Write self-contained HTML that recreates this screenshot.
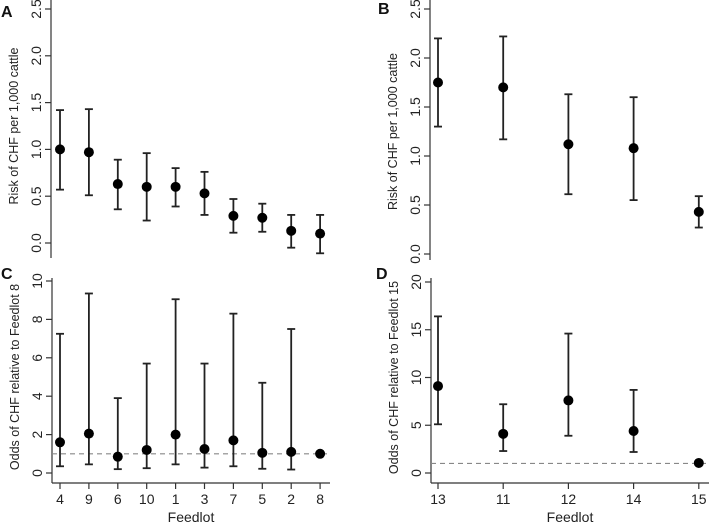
<!DOCTYPE html>
<html><head><meta charset="utf-8"><style>
body{margin:0;background:#fff}
svg{display:block;font-family:"Liberation Sans",Arial,sans-serif}
</style></head><body>
<svg id="c" width="709" height="525" viewBox="0 0 709 525"></svg>
<script>
const aCats=["4","9","6","10","1","3","7","5","2","8"];
const aEst=[1.0,0.97,0.63,0.6,0.6,0.53,0.29,0.27,0.13,0.1];
const aLo=[0.57,0.51,0.36,0.24,0.39,0.3,0.11,0.12,-0.05,-0.11];
const aHi=[1.42,1.43,0.89,0.96,0.80,0.76,0.47,0.42,0.30,0.30];
const bCats=["13","11","12","14","15"];
const bEst=[1.75,1.70,1.12,1.08,0.43];
const bLo=[1.30,1.17,0.61,0.55,0.27];
const bHi=[2.20,2.22,1.63,1.60,0.59];
const cEst=[1.6,2.05,0.85,1.2,2.0,1.25,1.7,1.05,1.1,1.0];
const cLo=[0.35,0.45,0.2,0.25,0.45,0.28,0.35,0.22,0.18,null];
const cHi=[7.25,9.35,3.9,5.7,9.05,5.7,8.3,4.7,7.5,null];
const dEst=[9.1,4.1,7.6,4.4,1.05];
const dLo=[5.1,2.3,3.9,2.2,null];
const dHi=[16.4,7.2,14.6,8.7,null];
const aTicks=[0,0.5,1,1.5,2,2.5], cTicks=[0,2,4,6,8,10], dTicks=[0,5,10,15,20];

const svg=document.getElementById('c');
const NS="http://www.w3.org/2000/svg";
function mk(t,at,parent){const e=document.createElementNS(NS,t);for(const k in at)e.setAttribute(k,at[k]);(parent||svg).appendChild(e);return e;}

function panel(o){
  const g=mk('g',{});
  
  
  const y=v=>o.y0+(v-o.v0)*(o.y1-o.y0)/(o.v1-o.v0);
  const x=i=>o.x0+i*o.dx;
  const ya=mk('line',{x1:o.ax,x2:o.ax,y1:o.axTop,y2:o.axBot,stroke:'#333','stroke-width':1.2},g);
  
  
  o.ticks.forEach(t=>{
    const ty=y(t);
    mk('line',{x1:o.ax-6,x2:o.ax,y1:ty,y2:ty,stroke:'#333','stroke-width':1.2},g);
    const tx=mk('text',{transform:`translate(${o.ax-10},${ty}) rotate(-90)`,'text-anchor':'middle','font-size':14,fill:'#222'},g);
    tx.textContent=o.fmt(t);
    
    
  });
  const yt=mk('text',{transform:`translate(${o.ax-33},${(o.y0+o.y1)/2+o.tOff}) rotate(-90)`,'text-anchor':'middle','font-size':12.5,fill:'#222'},g);
  yt.textContent=o.title;
  
  
  const lb=mk('text',{x:o.lx,y:o.ly,'font-size':16,'font-weight':'bold',fill:'#111'},g);
  lb.textContent=o.id.toUpperCase();
  
  
  if(o.ref!=null){
    const rl=mk('line',{x1:o.ax,x2:o.refEnd,y1:y(o.ref),y2:y(o.ref),stroke:'#888','stroke-width':1.2,'stroke-dasharray':'5,4'},g);
    
    
  }
  if(o.xaxis){
    const xa=mk('line',{x1:o.ax,x2:o.xEnd,y1:483,y2:483,stroke:'#333','stroke-width':1.2},g);
    
    
    o.cats.forEach((c,i)=>{
      mk('line',{x1:x(i),x2:x(i),y1:483,y2:489,stroke:'#333','stroke-width':1.2},g);
      const t=mk('text',{x:x(i),y:504,'text-anchor':'middle','font-size':14,fill:'#222'},g);
      t.textContent=c;
      
      
    });
    const xt=mk('text',{x:(o.ax+o.xEnd)/2,y:522,'text-anchor':'middle','font-size':14,fill:'#222'},g);
    xt.textContent='Feedlot';
    
    
  }
  o.est.forEach((v,i)=>{
    const cx=x(i);
    if(o.lo[i]!=null){
      const e=mk('g',{stroke:'#222','stroke-width':1.8},g);
      
      
      mk('line',{x1:cx,x2:cx,y1:y(o.lo[i]),y2:y(o.hi[i])},e);
      mk('line',{x1:cx-4,x2:cx+4,y1:y(o.lo[i]),y2:y(o.lo[i])},e);
      mk('line',{x1:cx-4,x2:cx+4,y1:y(o.hi[i]),y2:y(o.hi[i])},e);
    }
    const p=mk('circle',{cx:cx,cy:y(v),r:5,fill:'#000'},g);
    
    
  });
}
panel({id:'a',ax:51,axTop:0,axBot:258,v0:0,y0:243,v1:2.5,y1:9,x0:60,dx:28.9,ticks:aTicks,fmt:t=>t.toFixed(1),
  title:'Risk of CHF per 1,000 cattle',tOff:0,lx:1,ly:17,est:aEst,lo:aLo,hi:aHi,cats:aCats,xaxis:false});
panel({id:'b',ax:430,axTop:0,axBot:260,v0:0,y0:254,v1:2.5,y1:9,x0:438,dx:65.2,ticks:aTicks,fmt:t=>t.toFixed(1),
  title:'Risk of CHF per 1,000 cattle',tOff:0,lx:378,ly:14,est:bEst,lo:bLo,hi:bHi,cats:bCats,xaxis:false});
panel({id:'c',ax:52,axTop:278,axBot:483,v0:0,y0:473,v1:10,y1:281,x0:60,dx:28.9,ticks:cTicks,fmt:t=>String(t),
  title:'Odds of CHF relative to Feedlot 8',tOff:0,lx:1,ly:279,est:cEst,lo:cLo,hi:cHi,cats:aCats,xaxis:true,xEnd:330,ref:1,refEnd:330});
panel({id:'d',ax:431,axTop:278,axBot:483,v0:0,y0:473,v1:20,y1:282,x0:438,dx:65.2,ticks:dTicks,fmt:t=>String(t),
  title:'Odds of CHF relative to Feedlot 15',tOff:0,lx:376,ly:279,est:dEst,lo:dLo,hi:dHi,cats:bCats,xaxis:true,xEnd:709,ref:1,refEnd:709});
</script>
</body></html>
